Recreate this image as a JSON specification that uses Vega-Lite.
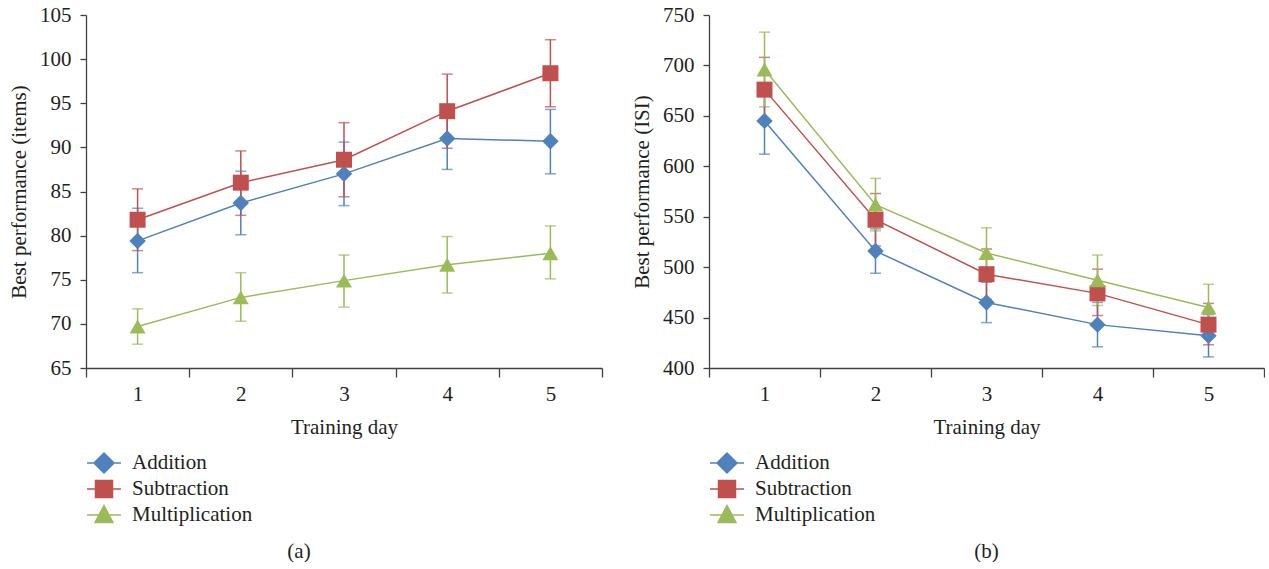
{
  "$schema": "https://vega.github.io/schema/vega-lite/v6.json",
  "padding": {"left": 8, "top": 4, "right": 0, "bottom": 0},
  "background": "white",
  "datasets": {
    "items": [
      {"day": 1, "series": "Addition", "value": 79.4, "lower": 75.8, "upper": 83.1},
      {"day": 2, "series": "Addition", "value": 83.7, "lower": 80.1, "upper": 87.3},
      {"day": 3, "series": "Addition", "value": 87.0, "lower": 83.4, "upper": 90.6},
      {"day": 4, "series": "Addition", "value": 91.0, "lower": 87.5, "upper": 94.4},
      {"day": 5, "series": "Addition", "value": 90.7, "lower": 87.0, "upper": 94.3},
      {"day": 1, "series": "Subtraction", "value": 81.8, "lower": 78.3, "upper": 85.3},
      {"day": 2, "series": "Subtraction", "value": 86.0, "lower": 82.3, "upper": 89.6},
      {"day": 3, "series": "Subtraction", "value": 88.6, "lower": 84.4, "upper": 92.8},
      {"day": 4, "series": "Subtraction", "value": 94.1, "lower": 89.9, "upper": 98.3},
      {"day": 5, "series": "Subtraction", "value": 98.4, "lower": 94.6, "upper": 102.2},
      {"day": 1, "series": "Multiplication", "value": 69.7, "lower": 67.7, "upper": 71.7},
      {"day": 2, "series": "Multiplication", "value": 73.0, "lower": 70.3, "upper": 75.8},
      {"day": 3, "series": "Multiplication", "value": 74.9, "lower": 71.9, "upper": 77.8},
      {"day": 4, "series": "Multiplication", "value": 76.7, "lower": 73.5, "upper": 79.9},
      {"day": 5, "series": "Multiplication", "value": 78.0, "lower": 75.1, "upper": 81.1}
    ],
    "isi": [
      {"day": 1, "series": "Addition", "value": 645, "lower": 612, "upper": 678},
      {"day": 2, "series": "Addition", "value": 516, "lower": 494, "upper": 538},
      {"day": 3, "series": "Addition", "value": 465, "lower": 445, "upper": 485},
      {"day": 4, "series": "Addition", "value": 443, "lower": 421, "upper": 465},
      {"day": 5, "series": "Addition", "value": 432, "lower": 411, "upper": 453},
      {"day": 1, "series": "Subtraction", "value": 676, "lower": 644, "upper": 708},
      {"day": 2, "series": "Subtraction", "value": 547, "lower": 521, "upper": 573},
      {"day": 3, "series": "Subtraction", "value": 493, "lower": 468, "upper": 518},
      {"day": 4, "series": "Subtraction", "value": 474, "lower": 452, "upper": 498},
      {"day": 5, "series": "Subtraction", "value": 443, "lower": 423, "upper": 464},
      {"day": 1, "series": "Multiplication", "value": 696, "lower": 659, "upper": 733},
      {"day": 2, "series": "Multiplication", "value": 562, "lower": 536, "upper": 588},
      {"day": 3, "series": "Multiplication", "value": 514, "lower": 489, "upper": 539},
      {"day": 4, "series": "Multiplication", "value": 487, "lower": 462, "upper": 512},
      {"day": 5, "series": "Multiplication", "value": 460, "lower": 437, "upper": 483}
    ]
  },
  "spacing": 28,
  "hconcat": [
    {
      "width": 516,
      "height": 353,
      "data": {"name": "items"},
      "title": {"text": "(a)", "orient": "bottom", "anchor": "middle", "dx": -45, "offset": 15},
      "encoding": {
        "x": {
          "field": "day", "type": "ordinal", "title": "Training day",
          "scale": {"type": "band", "paddingInner": 0, "paddingOuter": 0},
          "axis": {"labelAngle": 0, "tickBand": "extent", "tickSize": 9, "labelPadding": 6, "titlePadding": 12}
        },
        "color": {
          "field": "series", "type": "nominal", "legend": null,
          "scale": {"domain": ["Subtraction", "Addition", "Multiplication"], "range": ["#C0504D", "#4F81BD", "#9BBB59"]}
        }
      },
      "layer": [
        {
          "mark": {"type": "errorbar", "ticks": {"size": 11}, "thickness": 1.5},
          "encoding": {
            "y": {"field": "lower", "type": "quantitative", "title": "Best performance (items)",
                  "scale": {"domain": [65, 105], "nice": false, "zero": false},
                  "axis": {"values": [65, 70, 75, 80, 85, 90, 95, 100, 105], "tickSize": 6, "labelPadding": 9, "titlePadding": 10}},
            "y2": {"field": "upper"}
          }
        },
        {
          "mark": {"type": "line", "strokeWidth": 1.5},
          "encoding": {"y": {"field": "value", "type": "quantitative"}}
        },
        {
          "transform": [{"filter": "datum.series === 'Addition'"}],
          "mark": {"type": "point", "filled": true, "opacity": 1, "size": 270, "shape": "diamond"},
          "encoding": {"y": {"field": "value", "type": "quantitative"}}
        },
        {
          "transform": [{"filter": "datum.series === 'Subtraction'"}],
          "mark": {"type": "point", "filled": true, "opacity": 1, "size": 256, "shape": "square"},
          "encoding": {"y": {"field": "value", "type": "quantitative"}}
        },
        {
          "transform": [{"filter": "datum.series === 'Multiplication'"}],
          "mark": {"type": "point", "filled": true, "opacity": 1, "size": 256, "shape": "triangle-up"},
          "encoding": {"y": {"field": "value", "type": "quantitative"}}
        },
        {
          "transform": [{"filter": "datum.day > 99"}],
          "mark": {"type": "point", "filled": true, "opacity": 1, "size": 400, "strokeWidth": 1.5},
          "encoding": {
            "y": {"field": "value", "type": "quantitative"},
            "shape": {
              "field": "series", "type": "nominal",
              "scale": {"domain": ["Addition", "Subtraction", "Multiplication"], "range": ["M-1.7,0H1.7M0,-1L1,0L0,1L-1,0Z", "M-1.7,0H1.7M-0.85,-0.85H0.85V0.85H-0.85Z", "M-1.7,0H1.7M0,-0.95L0.9,0.75H-0.9Z"]},
              "legend": {"title": null, "orient": "none", "legendX": 7, "legendY": 437, "direction": "vertical", "symbolSize": 400, "symbolStrokeWidth": 1.5, "labelFontSize": 21, "labelFont": "Liberation Serif", "labelColor": "#231f20", "labelOffset": 17, "rowPadding": 1, "padding": 0}
            },
            "fill": {
              "field": "series", "type": "nominal",
              "scale": {"domain": ["Addition", "Subtraction", "Multiplication"], "range": ["#4F81BD", "#C0504D", "#9BBB59"]},
              "legend": {"title": null, "orient": "none", "legendX": 7, "legendY": 437, "direction": "vertical", "symbolSize": 400, "symbolStrokeWidth": 1.5, "labelFontSize": 21, "labelFont": "Liberation Serif", "labelColor": "#231f20", "labelOffset": 17, "rowPadding": 1, "padding": 0}
            },
            "stroke": {
              "field": "series", "type": "nominal",
              "scale": {"domain": ["Addition", "Subtraction", "Multiplication"], "range": ["#4F81BD", "#C0504D", "#9BBB59"]},
              "legend": {"title": null, "orient": "none", "legendX": 7, "legendY": 437, "direction": "vertical", "symbolSize": 400, "symbolStrokeWidth": 1.5, "labelFontSize": 21, "labelFont": "Liberation Serif", "labelColor": "#231f20", "labelOffset": 17, "rowPadding": 1, "padding": 0}
            }
          }
        }
      ]
    },
    {
      "width": 555,
      "height": 353,
      "data": {"name": "isi"},
      "title": {"text": "(b)", "orient": "bottom", "anchor": "middle", "dx": 0, "offset": 15},
      "encoding": {
        "x": {
          "field": "day", "type": "ordinal", "title": "Training day",
          "scale": {"type": "band", "paddingInner": 0, "paddingOuter": 0},
          "axis": {"labelAngle": 0, "tickBand": "extent", "tickSize": 9, "labelPadding": 6, "titlePadding": 12}
        },
        "color": {
          "field": "series", "type": "nominal", "legend": null,
          "scale": {"domain": ["Subtraction", "Addition", "Multiplication"], "range": ["#C0504D", "#4F81BD", "#9BBB59"]}
        }
      },
      "layer": [
        {
          "mark": {"type": "errorbar", "ticks": {"size": 11}, "thickness": 1.5},
          "encoding": {
            "y": {"field": "lower", "type": "quantitative", "title": "Best performance (ISI)",
                  "scale": {"domain": [400, 750], "nice": false, "zero": false},
                  "axis": {"values": [400, 450, 500, 550, 600, 650, 700, 750], "tickSize": 6, "labelPadding": 9, "titlePadding": 10}},
            "y2": {"field": "upper"}
          }
        },
        {
          "mark": {"type": "line", "strokeWidth": 1.5},
          "encoding": {"y": {"field": "value", "type": "quantitative"}}
        },
        {
          "transform": [{"filter": "datum.series === 'Addition'"}],
          "mark": {"type": "point", "filled": true, "opacity": 1, "size": 270, "shape": "diamond"},
          "encoding": {"y": {"field": "value", "type": "quantitative"}}
        },
        {
          "transform": [{"filter": "datum.series === 'Subtraction'"}],
          "mark": {"type": "point", "filled": true, "opacity": 1, "size": 256, "shape": "square"},
          "encoding": {"y": {"field": "value", "type": "quantitative"}}
        },
        {
          "transform": [{"filter": "datum.series === 'Multiplication'"}],
          "mark": {"type": "point", "filled": true, "opacity": 1, "size": 256, "shape": "triangle-up"},
          "encoding": {"y": {"field": "value", "type": "quantitative"}}
        },
        {
          "transform": [{"filter": "datum.day > 99"}],
          "mark": {"type": "point", "filled": true, "opacity": 1, "size": 400, "strokeWidth": 1.5},
          "encoding": {
            "y": {"field": "value", "type": "quantitative"},
            "shape": {
              "field": "series", "type": "nominal",
              "scale": {"domain": ["Addition", "Subtraction", "Multiplication"], "range": ["M-1.7,0H1.7M0,-1L1,0L0,1L-1,0Z", "M-1.7,0H1.7M-0.85,-0.85H0.85V0.85H-0.85Z", "M-1.7,0H1.7M0,-0.95L0.9,0.75H-0.9Z"]},
              "legend": {"title": null, "orient": "none", "legendX": 7, "legendY": 437, "direction": "vertical", "symbolSize": 400, "symbolStrokeWidth": 1.5, "labelFontSize": 21, "labelFont": "Liberation Serif", "labelColor": "#231f20", "labelOffset": 17, "rowPadding": 1, "padding": 0}
            },
            "fill": {
              "field": "series", "type": "nominal",
              "scale": {"domain": ["Addition", "Subtraction", "Multiplication"], "range": ["#4F81BD", "#C0504D", "#9BBB59"]},
              "legend": {"title": null, "orient": "none", "legendX": 7, "legendY": 437, "direction": "vertical", "symbolSize": 400, "symbolStrokeWidth": 1.5, "labelFontSize": 21, "labelFont": "Liberation Serif", "labelColor": "#231f20", "labelOffset": 17, "rowPadding": 1, "padding": 0}
            },
            "stroke": {
              "field": "series", "type": "nominal",
              "scale": {"domain": ["Addition", "Subtraction", "Multiplication"], "range": ["#4F81BD", "#C0504D", "#9BBB59"]},
              "legend": {"title": null, "orient": "none", "legendX": 7, "legendY": 437, "direction": "vertical", "symbolSize": 400, "symbolStrokeWidth": 1.5, "labelFontSize": 21, "labelFont": "Liberation Serif", "labelColor": "#231f20", "labelOffset": 17, "rowPadding": 1, "padding": 0}
            }
          }
        }
      ]
    }
  ],
  "resolve": {"scale": {"color": "independent", "shape": "independent", "fill": "independent", "stroke": "independent"}},
  "config": {
    "font": "Liberation Serif",
    "view": {"stroke": null},
    "axis": {
      "grid": false,
      "domainColor": "#404040", "tickColor": "#404040", "domainWidth": 1.3, "tickWidth": 1.3,
      "labelFont": "Liberation Serif", "labelFontSize": 21, "labelColor": "#231f20",
      "titleFont": "Liberation Serif", "titleFontSize": 21, "titleFontWeight": "normal", "titleColor": "#231f20"
    },
    "legend": {"labelFont": "Liberation Serif", "labelColor": "#231f20"},
    "title": {"font": "Liberation Serif", "fontSize": 21, "fontWeight": "normal", "color": "#231f20"}
  }
}
